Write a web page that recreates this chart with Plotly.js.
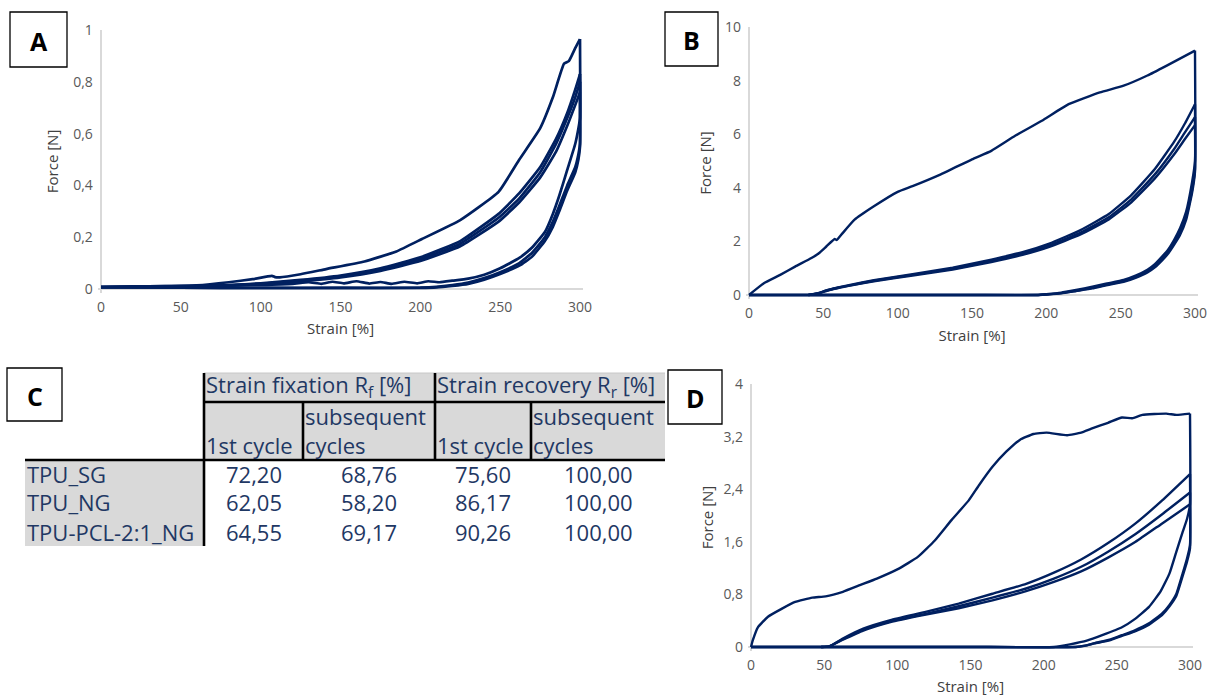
<!DOCTYPE html>
<html><head><meta charset="utf-8">
<script src="https://cdn.plot.ly/plotly-3.0.1.min.js"></script>
<style>html,body{margin:0;padding:0;background:#fff;}#chart{width:1212px;height:696px;}</style>
</head><body><div id="chart"></div>
<script>
// ---------- Panel A data (strain %, force N) ----------
const aLoad1S = [0,20,40,60,80,95,107,109,112,125,141,165,185,201,225,249,262,275,283,290,293,297,300];
const aLoad1F = [0.008,0.010,0.011,0.014,0.026,0.038,0.051,0.046,0.045,0.057,0.077,0.106,0.145,0.193,0.266,0.375,0.50,0.62,0.74,0.87,0.88,0.93,0.965];
const aLoadNS = [55,80,100,125,150,175,200,225,249,262,275,285,292,297,300];
const aLoad2F = [0.010,0.015,0.022,0.035,0.052,0.080,0.122,0.185,0.29,0.37,0.47,0.58,0.68,0.77,0.83];
const aLoad3F = [0.010,0.014,0.020,0.032,0.048,0.075,0.115,0.175,0.275,0.35,0.45,0.56,0.66,0.74,0.80];
const aLoad4F = [0.010,0.013,0.019,0.030,0.045,0.070,0.108,0.165,0.26,0.335,0.43,0.53,0.63,0.71,0.76];
const aUnload1S = [300,300,299,297,292,287,283,278,270,262,250,240,230,220,212,205,198,190,182,175,168,160,152,145,138,130,120,100,60,30,0];
const aUnload1F = [0.965,0.66,0.62,0.56,0.46,0.36,0.29,0.22,0.16,0.12,0.08,0.055,0.04,0.032,0.026,0.03,0.022,0.028,0.02,0.027,0.021,0.03,0.022,0.028,0.02,0.026,0.02,0.016,0.012,0.01,0.008];
const aUnloadNS = [300,300,299,297,292,287,283,278,270,262,250,240,230,220,210,200,150,100,50,0];
const aUnload2F = [0.83,0.56,0.52,0.47,0.40,0.32,0.26,0.20,0.14,0.10,0.065,0.042,0.025,0.015,0.008,0.005,0.004,0.004,0.005,0.006];
const aUnload3F = [0.80,0.55,0.50,0.45,0.38,0.30,0.24,0.185,0.125,0.09,0.058,0.036,0.02,0.012,0.006,0.004,0.004,0.004,0.005,0.006];

// ---------- Panel B data ----------
const bLoad1S = [0,10,21,31,42,47,52,57.6,59,63,71,84,100,110,129,150,163,179,197,215,236,252,268,281,300];
const bLoad1F = [0,0.44,0.75,1.06,1.38,1.56,1.81,2.09,2.05,2.31,2.81,3.31,3.85,4.06,4.5,5.06,5.38,5.94,6.5,7.12,7.56,7.81,8.19,8.56,9.12];
const bLoadNS = [40,47,52,60,68,84,110,137,163,184,202,223,242,257,273,286,293,300];
const bLoad2F = [0,0.08,0.17,0.28,0.38,0.55,0.78,1.02,1.32,1.6,1.92,2.42,3.02,3.72,4.7,5.72,6.38,7.12];
const bLoad3F = [0,0.07,0.16,0.27,0.36,0.53,0.75,0.98,1.27,1.54,1.85,2.33,2.9,3.56,4.5,5.45,6.05,6.64];
const bLoad4F = [0,0.06,0.15,0.26,0.35,0.51,0.73,0.95,1.23,1.5,1.8,2.26,2.82,3.45,4.35,5.25,5.8,6.34];
const bUnloadS = [300,300,298,294,290,286,282,278,273,268,260,252,240,231,220,210,200,194,150,100,50,0];
const bUnload1F = [9.12,5.0,4.2,3.1,2.5,2.06,1.7,1.44,1.15,0.94,0.72,0.56,0.42,0.31,0.19,0.09,0.03,0,0,0,0,0];
const bUnload2F = [7.12,4.7,3.9,2.9,2.35,1.95,1.6,1.36,1.08,0.88,0.67,0.52,0.38,0.27,0.16,0.07,0.02,0,0,0,0,0];
const bUnload3F = [6.64,4.6,3.8,2.8,2.25,1.88,1.55,1.3,1.03,0.84,0.64,0.49,0.36,0.25,0.15,0.06,0.02,0,0,0,0,0];

// ---------- Panel D data ----------
const dLoad1S = [0,1.2,4.7,11.6,20.9,30.2,41.9,51,62.8,74.4,86,100,114,125.6,137,148.8,155.8,165,174.4,183.7,193,202,216,225.6,232.6,244,253.5,260.5,267.4,283.7,290.7,300];
const dLoad1F = [0,0.1,0.30,0.46,0.58,0.685,0.75,0.77,0.84,0.94,1.04,1.18,1.37,1.62,1.93,2.23,2.46,2.74,2.97,3.15,3.24,3.26,3.22,3.26,3.32,3.41,3.49,3.48,3.53,3.55,3.53,3.55];
const dLoadNS = [48,53.5,62.8,76.7,95.3,118.6,141.9,165,188,207,225.6,244,262.8,281,300];
const dLoad2F = [0,0.01,0.13,0.28,0.41,0.53,0.66,0.81,0.96,1.13,1.33,1.58,1.88,2.23,2.63];
const dLoad3F = [0,0.01,0.12,0.26,0.39,0.50,0.62,0.75,0.89,1.04,1.22,1.45,1.72,2.02,2.35];
const dLoad4F = [0,0.01,0.11,0.25,0.38,0.49,0.59,0.71,0.85,0.99,1.15,1.36,1.60,1.88,2.17];
const dUnload1S = [300,300,298,295,290,286,280,272,262,253.5,240,230,218,207,150,100,50,0];
const dUnload1F = [3.55,2.17,1.95,1.75,1.40,1.12,0.85,0.61,0.42,0.30,0.18,0.10,0.04,0,0,0,0,0];
const dUnloadNS = [300,300,298,295,290.7,286,281,272,262,253.5,245,234.9,228,222,150,100,52,0];
const dUnload2F = [2.63,1.55,1.35,1.12,0.81,0.64,0.51,0.36,0.25,0.18,0.11,0.06,0.02,0,0,0,0,0];
const dUnload3F = [2.35,1.5,1.3,1.08,0.78,0.62,0.49,0.34,0.235,0.17,0.10,0.055,0.018,0,0,0,0,0];

// ---------- Panel C table data ----------
const tableGroups = ['Strain fixation R<sub>f</sub> [%]', 'Strain recovery R<sub>r</sub> [%]'];
const tableSubHeads = ['1st cycle', 'subsequent<br>cycles'];
const sampleNames = ['TPU_SG', 'TPU_NG', 'TPU-PCL-2:1_NG'];
const rfFirst = [72.20, 62.05, 64.55];
const rfSubsequent = [68.76, 58.20, 69.17];
const rrFirst = [75.60, 86.17, 90.26];
const rrSubsequent = [100.00, 100.00, 100.00];

const xTicks = [0,50,100,150,200,250,300];
const panelLetters = ['A','B','C','D'];

// ---------- layout helpers ----------
const W = 1212, H = 696;
const LINE = '#002060', TXT = '#1f3864', GRAY = '#595959';
function xdom(p0, p300, r) { const k = (p300 - p0) / 300; return [(p0 + r[0]*k)/W, (p0 + r[1]*k)/W]; }
function ydom(p0, pTop, top, r) { const k = (p0 - pTop) / top; return [1 - (p0 - r[0]*k)/H, 1 - (p0 - r[1]*k)/H]; }
const px = x => x / W, py = y => 1 - y / H;

function tr(x, y, xa, ya, w) {
  return {x: x, y: y, xaxis: xa, yaxis: ya, type: 'scatter', mode: 'lines', hoverinfo: 'skip', showlegend: false,
    line: {color: LINE, width: w || 2.4, shape: 'spline', smoothing: 0.4}};
}
const traces = [
  tr(aLoad1S, aLoad1F, 'x', 'y', 2.7), tr(aLoadNS, aLoad2F, 'x', 'y', 2.7), tr(aLoadNS, aLoad3F, 'x', 'y', 2.7), tr(aLoadNS, aLoad4F, 'x', 'y', 2.7),
  tr(aUnload1S, aUnload1F, 'x', 'y', 2.7), tr(aUnloadNS, aUnload2F, 'x', 'y', 2.7), tr(aUnloadNS, aUnload3F, 'x', 'y', 2.7),
  tr(bLoad1S, bLoad1F, 'x2', 'y2'), tr(bLoadNS, bLoad2F, 'x2', 'y2'), tr(bLoadNS, bLoad3F, 'x2', 'y2'), tr(bLoadNS, bLoad4F, 'x2', 'y2'),
  tr(bUnloadS, bUnload1F, 'x2', 'y2'), tr(bUnloadS, bUnload2F, 'x2', 'y2'), tr(bUnloadS, bUnload3F, 'x2', 'y2'),
  tr(dLoad1S, dLoad1F, 'x3', 'y3'), tr(dLoadNS, dLoad2F, 'x3', 'y3'), tr(dLoadNS, dLoad3F, 'x3', 'y3'), tr(dLoadNS, dLoad4F, 'x3', 'y3'),
  tr(dUnload1S, dUnload1F, 'x3', 'y3'), tr(dUnloadNS, dUnload2F, 'x3', 'y3'), tr(dUnloadNS, dUnload3F, 'x3', 'y3')
];

const tickFont = {family: 'Open Sans, sans-serif', size: 14, color: GRAY};
const titleFont = {family: 'Open Sans, sans-serif', size: 15, color: '#404040'};
function xaxis(dom, anchor, standoff) {
  return {domain: dom, anchor: anchor, range: [-2, 302], tickvals: xTicks, showgrid: false, showline: false, ticks: '',
    zeroline: true, zerolinecolor: '#d9d9d9', zerolinewidth: 1.3, tickfont: tickFont, ticklabelstandoff: 4,
    title: {text: 'Strain [%]', font: titleFont, standoff: standoff}, fixedrange: true};
}
function yaxis(dom, anchor, range, dtick, standoff) {
  return {domain: dom, anchor: anchor, range: range, tick0: 0, dtick: dtick, showgrid: false, showline: false, ticks: '',
    zeroline: true, zerolinecolor: '#d9d9d9', zerolinewidth: 1.3, tickfont: tickFont, ticklabelstandoff: 4,
    title: {text: 'Force [N]', font: titleFont, standoff: standoff}, fixedrange: true};
}
const ayr = [-0.015, 1.0], byr = [-0.15, 10], dyr = [-0.06, 4];

const shapes = [], annotations = [];
// panel letter boxes
const boxes = [[10, 12, 67, 67], [665, 12, 718, 66], [7, 368, 62, 421], [668, 370, 722, 424]];
boxes.forEach((b, i) => {
  shapes.push({type: 'rect', xref: 'paper', yref: 'paper', x0: px(b[0]), x1: px(b[2]), y0: py(b[1]), y1: py(b[3]),
    line: {color: '#000', width: 1.3}, fillcolor: '#fff', layer: 'above'});
  annotations.push({xref: 'paper', yref: 'paper', x: px((b[0] + b[2]) / 2), y: py((b[1] + b[3]) / 2 + 1),
    xanchor: 'center', yanchor: 'middle', showarrow: false, text: '<b>' + panelLetters[i] + '</b>',
    font: {family: 'Open Sans, sans-serif', size: 25, color: '#000'}});
});

// table geometry (pixels)
const colX = [25, 204, 303, 435, 531, 665];
const rowY = [373, 402, 460, 488, 517, 546];
function rect(x0, y0, x1, y1, fill) {
  shapes.push({type: 'rect', xref: 'paper', yref: 'paper', x0: px(x0), x1: px(x1), y0: py(y0), y1: py(y1),
    line: {width: 0}, fillcolor: fill, layer: 'below'});
}
function hline(x0, x1, y) { shapes.push({type: 'line', xref: 'paper', yref: 'paper', x0: px(x0), x1: px(x1), y0: py(y), y1: py(y), line: {color: '#000', width: 2.6}}); }
function vline(x, y0, y1) { shapes.push({type: 'line', xref: 'paper', yref: 'paper', x0: px(x), x1: px(x), y0: py(y0), y1: py(y1), line: {color: '#000', width: 2.6}}); }
rect(colX[1], rowY[0], colX[5], rowY[2], '#d9d9d9');
rect(colX[0], rowY[2], colX[1], rowY[5], '#d9d9d9');
shapes.push({type: 'line', xref: 'paper', yref: 'paper', x0: px(colX[1]), x1: px(colX[5]), y0: py(rowY[0]), y1: py(rowY[0]), line: {color: '#c8c8c8', width: 1}});
vline(colX[1], rowY[0], rowY[5]);
hline(colX[1], colX[5], rowY[1]);
hline(colX[0], colX[5], rowY[2]);
vline(colX[2], rowY[1], rowY[2]);
vline(colX[3], rowY[0], rowY[2]);
vline(colX[4], rowY[1], rowY[2]);

const tFont = {family: 'Open Sans, sans-serif', size: 22, color: TXT};
function txt(x, y, s, anchor) {
  annotations.push({xref: 'paper', yref: 'paper', x: px(x), y: py(y), xanchor: anchor, yanchor: 'middle',
    showarrow: false, text: s, font: tFont, borderpad: 0, align: 'left'});
}
txt(colX[1] + 1, 386, tableGroups[0], 'left');
txt(colX[3] + 1, 386, tableGroups[1], 'left');
[colX[1], colX[3]].forEach(cx => txt(cx + 1, 445, tableSubHeads[0], 'left'));
[colX[2], colX[4]].forEach(cx => txt(cx + 1, 431, tableSubHeads[1], 'left'));
const fmt = v => v.toFixed(2).replace('.', ',');
const cols = [rfFirst, rfSubsequent, rrFirst, rrSubsequent];
sampleNames.forEach((n, r) => {
  const cy = (rowY[r + 2] + rowY[r + 3]) / 2;
  txt(colX[0] + 1, cy, n, 'left');
  cols.forEach((arr, c) => txt((colX[c + 1] + colX[c + 2]) / 2, cy, fmt(arr[r]), 'center'));
});

const layout = {
  width: W, height: H, margin: {l: 0, r: 0, t: 0, b: 0}, paper_bgcolor: '#fff', plot_bgcolor: 'rgba(0,0,0,0)',
  separators: ', ', showlegend: false, font: {family: 'Open Sans, sans-serif'},
  xaxis: xaxis(xdom(101, 580, [-2, 302]), 'y', 8),
  yaxis: yaxis(ydom(289, 30, 1, ayr), 'x', ayr, 0.2, 10),
  xaxis2: xaxis(xdom(749, 1195, [-2, 302]), 'y2', 9),
  yaxis2: yaxis(ydom(295, 27, 10, byr), 'x2', byr, 2, 9),
  xaxis3: xaxis(xdom(751, 1190, [-2, 302]), 'y3', 8),
  yaxis3: yaxis(ydom(647, 384, 4, dyr), 'x3', dyr, 0.8, 6),
  shapes: shapes, annotations: annotations
};
Plotly.newPlot('chart', traces, layout, {staticPlot: true, displayModeBar: false});
</script></body></html>
